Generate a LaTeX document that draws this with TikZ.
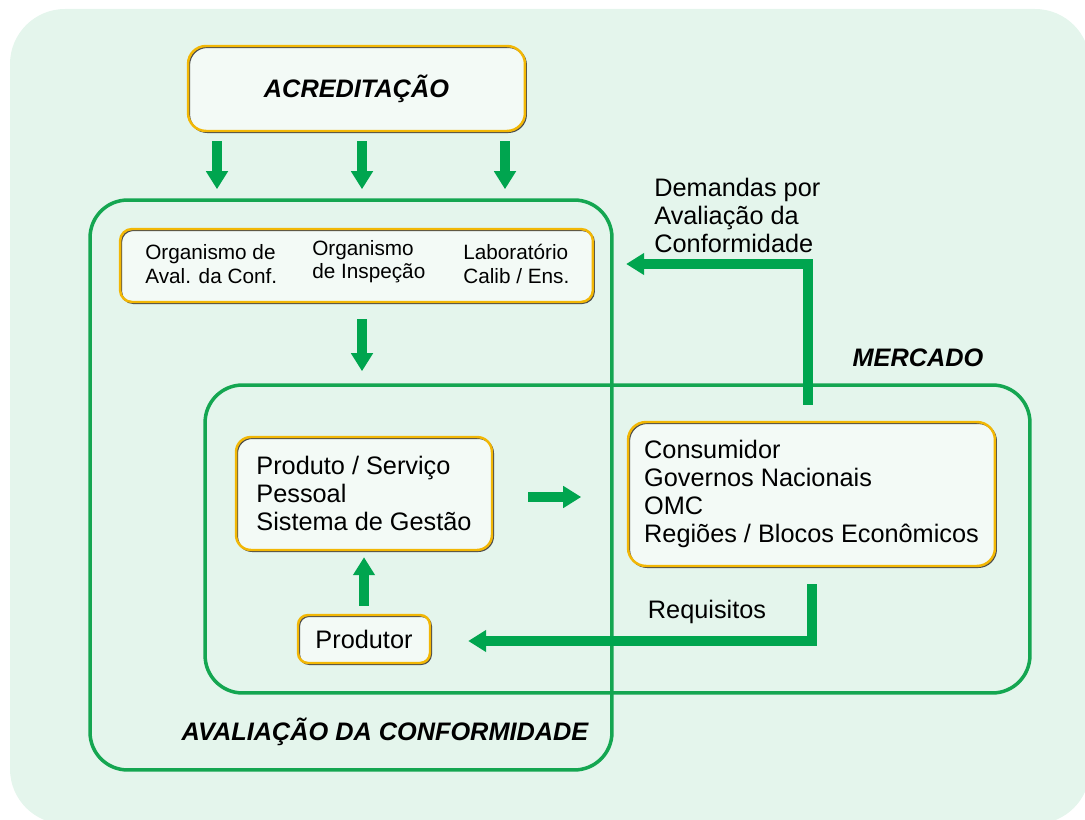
\documentclass[tikz,border=0pt]{standalone}
\usepackage{fontspec}
\setmainfont{Liberation Sans}
\usetikzlibrary{arrows.meta, positioning}
\definecolor{bgmint}{HTML}{E4F5EC}
\definecolor{framegreen}{HTML}{14A651}
\definecolor{arrowgreen}{HTML}{00A54F}
\definecolor{boxgold}{HTML}{F2B705}
\tikzset{
  greenframe/.style={draw=framegreen, line width=2pt, rounded corners=0.75cm, inner sep=0pt},
  goldbox/.style={preaction={fill=bgmint!45!white},
    preaction={draw=black!70, line width=0.9pt, transform canvas={shift={(0.7pt,-0.7pt)}}},
    draw=boxgold, line width=1.4pt, rounded corners=0.3cm, font=\maintext},
  bigarrow/.style={draw=arrowgreen, line width=0.2cm, line join=miter,
    -{Triangle[width=0.42cm,length=0.36cm]}},
  headtext/.style={font=\bfseries\itshape\fontsize{14.4}{17}\selectfont, inner sep=0pt},
  plaintext/.style={font=\maintext, inner sep=0pt, align=left},
  smalltext/.style={font=\fontsize{11.8}{13.2}\selectfont, inner sep=0pt, align=left}
}
\newcommand{\maintext}{\fontsize{14.4}{16}\selectfont}

\begin{document}
\begin{tikzpicture}[x=0.02cm, y=-0.02cm]
	\useasboundingbox (0,0) rectangle (1085,820);
	% Background
	\fill[bgmint, rounded corners=1.1cm] (10,9) rectangle (1090,824);
	% Frames
	\node[greenframe, minimum width=10.44cm, minimum height=11.4cm] (aval) at (351,485) {};
	\node[greenframe, minimum width=16.5cm, minimum height=6.16cm] (merc) at (617.5,539) {};
	\node[headtext] (merctext) at (918,358) {MERCADO};
	\node[headtext] (avaltext) at (385,732) {AVALIAÇÃO DA CONFORMIDADE};
	% Accreditation
	\node[goldbox, minimum width=6.74cm, minimum height=1.7cm, rounded corners=0.36cm,
	  font=\bfseries\itshape\fontsize{14.4}{17}\selectfont] (acred) at (356.5,88.5) {ACREDITAÇÃO};
	% Conformity assessment bodies
	\node[goldbox, minimum width=9.46cm, minimum height=1.46cm, rounded corners=0.24cm] (orgbox) at (356.5,265.5) {};
	\node[smalltext, anchor=west] (orgaval) at (145,264) {Organismo de\\Aval. da Conf.};
	\node[smalltext, anchor=west] (orginsp) at (312,262) {Organismo\\de Inspeção};
	\node[smalltext, anchor=west] (orglab) at (463,264) {Laboratório\\Calib / Ens.};
	% Object, producer and market
	\node[goldbox, minimum width=5.12cm, minimum height=2.26cm, align=left] (prod) at (364,493.5)
	  {Produto / Serviço\\Pessoal\\Sistema de Gestão};
	\node[goldbox, minimum width=7.34cm, minimum height=2.88cm, align=left, rounded corners=0.36cm] (cons) at (811.5,494)
	  {Consumidor\\Governos Nacionais\\OMC\\Regiões / Blocos Econômicos};
	\node[goldbox, minimum width=2.64cm, minimum height=0.96cm, rounded corners=0.2cm] (produtor) at (364,639) {Produtor};
	% Arrows
	\foreach \dx in {-139.5,5.5,148.5}
	  \draw[bigarrow] ([xshift=\dx*0.02cm, yshift=-0.18cm]acred.south) -- ++(0,48);
	\draw[bigarrow] ([xshift=0.11cm, yshift=-0.32cm]orgbox.south) -- ++(0,52);
	\draw[bigarrow] ([xshift=0.7cm, yshift=-0.07cm]prod.east) -- ++(53,0);
	\draw[bigarrow, shorten <=0.16cm, shorten >=0.12cm] (produtor.north) -- (prod.south);
	\draw[bigarrow] ([yshift=-0.34cm]cons.south) |- ([xshift=0.74cm, yshift=-0.04cm]produtor.east);
	\node[plaintext] (reqtext) at (707,612) {Requisitos};
	\coordinate (demfoot) at (808,405);
	\draw[bigarrow] (demfoot) |- ([xshift=0.64cm, yshift=0.03cm]orgbox.east);
	\node[plaintext, anchor=west] (demtext) at (654,215.5) {Demandas por\\Avaliação da\\Conformidade};
\end{tikzpicture}
\end{document}
